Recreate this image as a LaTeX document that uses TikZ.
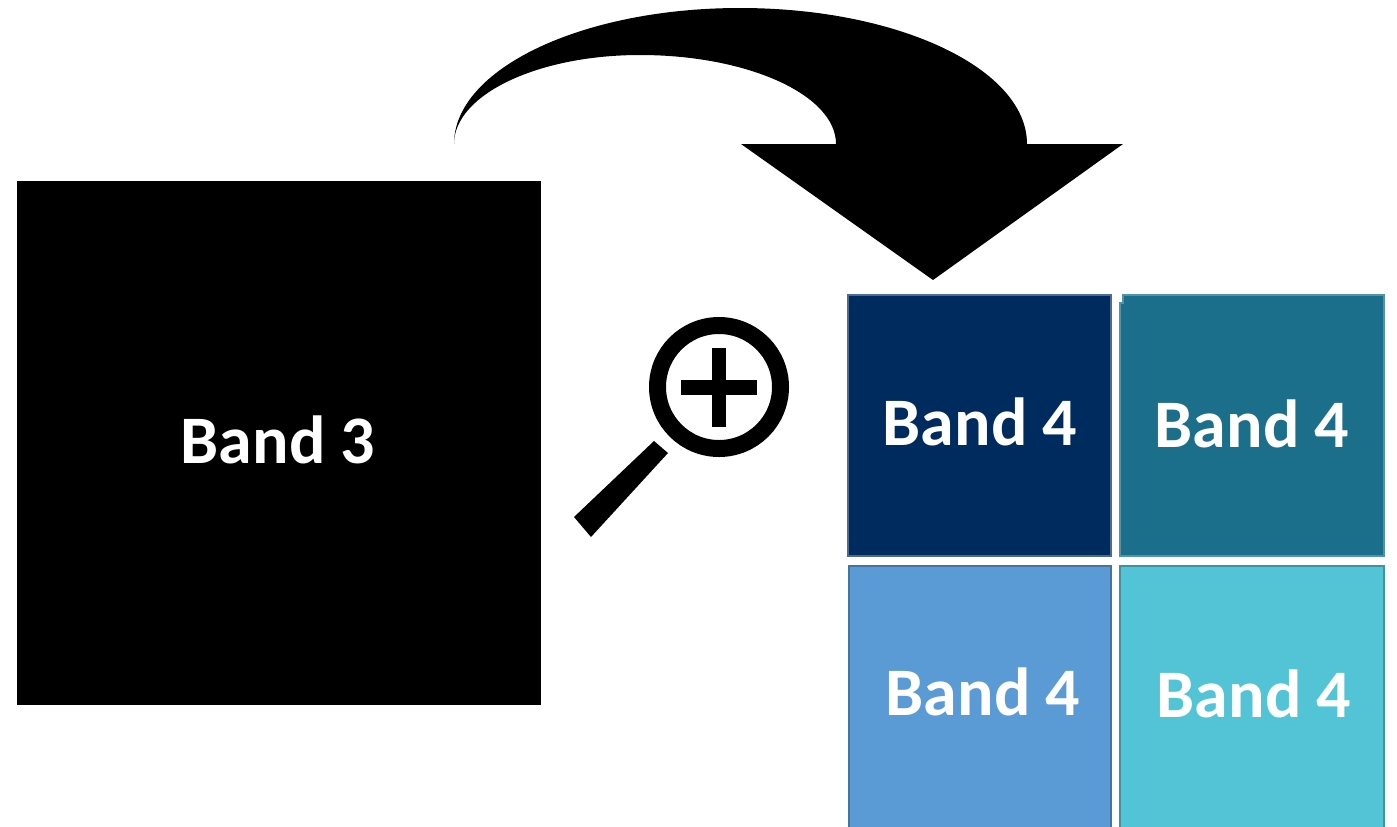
\documentclass[tikz,border=0pt]{standalone}
\usepackage{fontspec}
\setmainfont{Carlito}
\definecolor{navy}{HTML}{002B5E}
\definecolor{tealbox}{HTML}{1B6F8A}
\definecolor{bluebox}{HTML}{5B9BD5}
\definecolor{cyanbox}{HTML}{53C4D6}
\tikzset{
  bandlabel/.style={text=white,font=\fontsize{34}{40}\selectfont\bfseries,inner sep=0pt,anchor=base},
  bandbox/.style={line width=0.6pt},
}
\begin{document}
\begin{tikzpicture}[x=0.5pt,y=-0.5pt]
\useasboundingbox (0,0) rectangle (1397,826);
\clip (0,0) rectangle (1397,826);
% Band 3
\fill[black] (17,181) rectangle (541,705);
\node[bandlabel] (b3) at (278,463) {Band 3};
% curved arrow
\fill[black] (454,144)
  .. controls (454,69) and (582,8) .. (740,8)
  .. controls (899,8) and (1027,69) .. (1027,144)
  -- (1123,144) -- (933,280) -- (741,144) -- (836,144)
  .. controls (836,95) and (748,55) .. (640,55)
  .. controls (537,55) and (454,95) .. (454,144) -- cycle;
% magnifier
\draw[black,line width=8.5pt] (719,387) circle (61.5);
\fill[black] (681,380) rectangle (757,395);
\fill[black] (712,348) rectangle (726,427);
\fill[black] (654,441) -- (668,453) -- (591,537) -- (574,517) -- cycle;
% Band 4 boxes
\filldraw[bandbox,fill=navy,draw=navy!70!white] (848,295) rectangle (1111,556);
\filldraw[bandbox,fill=tealbox,draw=tealbox!75!white] (1123,295) -- (1384,295) -- (1384,556) -- (1120,556) -- (1120,303) -- (1123,303) -- cycle;
\filldraw[bandbox,fill=bluebox,draw=bluebox!75!black] (849,566) rectangle (1111,840);
\filldraw[bandbox,fill=cyanbox,draw=cyanbox!75!black] (1120,566) rectangle (1384,840);
\node[bandlabel] (b41) at (980,445) {Band 4};
\node[bandlabel] (b42) at (1252,447) {Band 4};
\node[bandlabel] (b43) at (983,715) {Band 4};
\node[bandlabel] (b44) at (1254,717) {Band 4};
\end{tikzpicture}
\end{document}
